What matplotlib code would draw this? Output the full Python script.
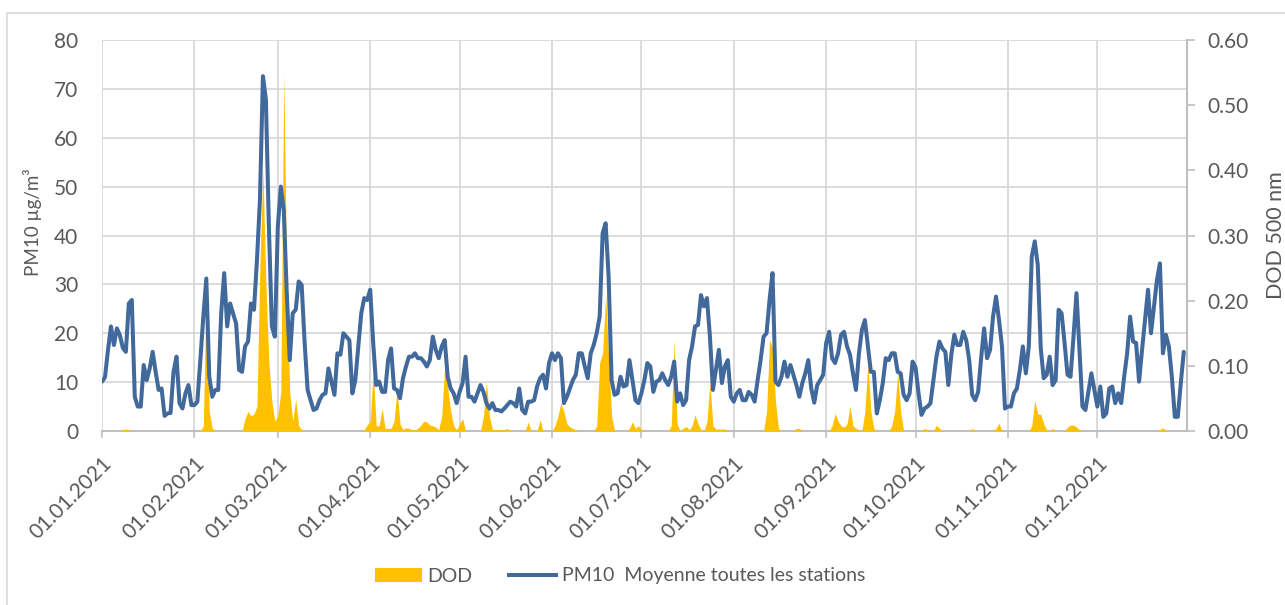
import numpy as np
import pandas as pd
import matplotlib
matplotlib.use("Agg")
import matplotlib.pyplot as plt
import matplotlib.dates as mdates
from matplotlib.patches import Patch, Rectangle
from matplotlib.lines import Line2D

plt.rcParams['font.family'] = ['Lato', 'DejaVu Sans']

# daily mean PM10 over all stations (µg/m3), one list per month
pm10_jan = [10.1, 11, 16.5, 21.4, 17.6, 21, 19.6, 17, 16.2, 26.1,
            26.8, 7, 5, 5, 13.5, 10.4, 12.8, 16.2, 12.1, 8.4,
            8.7, 3.1, 3.6, 3.7, 12.1, 15.2, 5.7, 4.6, 7.7, 9.4, 5.3]
pm10_feb = [5.3, 6, 14.5, 23.4, 31.2, 11.1, 7, 8.4, 8.4, 24.1,
            32.3, 21.4, 26.1, 24, 22, 12.5, 12.1, 17.3, 18.3, 26.1,
            24.8, 35, 47.3, 72.6, 67.8, 41.8, 21.4, 19.3]
pm10_mar = [41.8, 50, 45.2, 28.2, 14.5, 24.1, 24.8, 30.6, 29.9, 18,
            8.4, 6.3, 4.3, 4.6, 6.3, 7.4, 7.7, 12.8, 10.1, 7.4,
            15.9, 15.6, 20, 19.3, 18.6, 7.7, 10.4, 17.3, 24.1, 27.2, 26.8]
pm10_apr = [28.9, 18, 9.4, 10.1, 8, 8, 14.5, 16.9, 8.7, 8.4,
            6.7, 10.8, 13.2, 15.2, 15.2, 15.9, 14.9, 14.9, 14.2, 13.2,
            14.5, 19.3, 16.6, 14.9, 17.3, 18.6, 11.1, 8.7, 7.7, 5.7]
pm10_may = [8, 9.8, 15.2, 7, 7, 6, 7.7, 9.4, 8, 5.7,
            4.6, 5.7, 4.3, 4.3, 4, 4.6, 5.3, 6, 5.7, 5,
            8.7, 4.3, 3.6, 6, 6, 6.3, 9.1, 10.8, 11.5, 8.7, 13.9]
pm10_jun = [15.9, 14.5, 15.9, 14.9, 5.7, 7, 8.7, 10.4, 11.5, 15.9,
            15.9, 13.2, 10.8, 15.9, 17.6, 20, 23.4, 40.5, 42.5, 31.6,
            10.4, 7.4, 7.7, 11.1, 9.1, 9.4, 14.5, 10.4, 6.3, 5.7]
pm10_jul = [7.7, 10.4, 13.9, 13.2, 8, 10.1, 10.4, 11.8, 10.4, 9.4,
            11.1, 14.2, 6, 7.7, 5.3, 6.3, 14.5, 17.3, 21.4, 21.7,
            27.8, 25.5, 27.2, 19.3, 8.4, 12.5, 16.6, 9.8, 13.2, 14.5, 7]
pm10_aug = [6, 7.7, 8.4, 6.3, 6.3, 8, 7.4, 6, 10.4, 14.5,
            19.3, 20, 26.8, 32.3, 10.1, 9.4, 11.1, 14.2, 11.1, 13.5,
            11.5, 9.4, 7, 9.8, 11.8, 14.5, 8.7, 5.8, 9.4, 10.4, 11.5]
pm10_sep = [18, 20.3, 14.9, 13.9, 15.9, 19.7, 20.3, 17.3, 15.6, 11.8,
            8.4, 15.9, 20.7, 22.7, 17.3, 12.1, 12.1, 3.6, 6.3, 9.8,
            14.9, 14.5, 15.9, 15.9, 12.1, 11.8, 7.4, 6.3, 7.7, 14.2]
pm10_oct = [13, 7.7, 3.3, 4.6, 5, 5.7, 10.4, 15.2, 18.3, 16.9,
            16.2, 9.4, 15.6, 19.7, 17.6, 17.6, 20.3, 18.6, 14.5, 7.4,
            6.3, 8, 14.9, 21, 14.9, 16.6, 23.4, 27.5, 22.7, 17.3, 4.6]
pm10_nov = [5, 5, 7.7, 8.7, 12.5, 17.3, 11.8, 17.3, 35.7, 38.8,
            34, 17, 10.8, 11.5, 15.2, 9.4, 10.4, 24.8, 24.1, 18,
            11.5, 11.1, 19.3, 28.2, 16.6, 5, 4.3, 8, 11.8, 8.4]
pm10_dec = [5, 9.1, 2.9, 3.6, 8.7, 9.1, 5.7, 7.7, 5.7, 11.1,
            15.9, 23.4, 18.3, 18, 10.1, 16.6, 22.7, 28.9, 20, 25.5,
            30.9, 34.3, 15.9, 19.7, 17.3, 11.1, 2.9, 2.9, 9.8, 16.2]

# daily dust optical depth at 500 nm
dod_jan = [0, 0, 0, 0, 0, 0, 0, 0.002, 0.003, 0.002,
           0, 0, 0, 0, 0, 0, 0, 0, 0, 0,
           0, 0, 0, 0, 0, 0, 0, 0, 0, 0, 0]
dod_feb = [0, 0, 0, 0.008, 0.225, 0.03, 0.004, 0, 0, 0,
           0, 0, 0, 0, 0, 0, 0, 0.019, 0.03, 0.023,
           0.026, 0.038, 0.26, 0.40, 0.225, 0.105, 0.045, 0.015]
dod_mar = [0.023, 0.06, 0.548, 0.225, 0.06, 0.015, 0.049, 0.008, 0.002, 0,
           0, 0, 0, 0, 0, 0, 0, 0, 0, 0,
           0, 0, 0, 0, 0, 0, 0, 0, 0, 0.002, 0.009]
dod_apr = [0.015, 0.094, 0.008, 0.008, 0.034, 0.004, 0.004, 0.004, 0.015, 0.064,
           0.011, 0.002, 0.005, 0.004, 0.002, 0.002, 0.004, 0.009, 0.015, 0.014,
           0.009, 0.008, 0.006, 0.002, 0.023, 0.101, 0.068, 0.03, 0.008, 0.002]
dod_may = [0.011, 0.019, 0, 0, 0, 0, 0, 0, 0.023, 0.075,
           0.023, 0.002, 0.002, 0.002, 0.002, 0.002, 0.004, 0, 0, 0,
           0, 0, 0, 0.014, 0, 0, 0, 0.017, 0, 0, 0]
dod_jun = [0, 0.008, 0.023, 0.043, 0.03, 0.011, 0.006, 0.004, 0.002, 0,
           0, 0, 0, 0, 0, 0.008, 0.105, 0.12, 0.21, 0.113,
           0.023, 0, 0, 0, 0, 0, 0.004, 0.014, 0.004, 0.008]
dod_jul = [0.002, 0, 0, 0, 0, 0, 0, 0, 0, 0,
           0.008, 0.14, 0.011, 0, 0.004, 0.007, 0.002, 0.008, 0.025, 0.011,
           0.002, 0, 0.015, 0.075, 0.008, 0.003, 0.003, 0.003, 0.003, 0, 0]
dod_aug = [0, 0, 0, 0, 0, 0, 0, 0, 0, 0,
           0, 0.03, 0.14, 0.128, 0.045, 0.004, 0, 0, 0, 0,
           0, 0.004, 0.004, 0, 0, 0, 0, 0, 0, 0, 0]
dod_sep = [0, 0, 0.008, 0.027, 0.015, 0.008, 0.006, 0.011, 0.038, 0.008,
           0.004, 0.002, 0, 0.03, 0.105, 0.03, 0.004, 0, 0, 0,
           0, 0, 0.008, 0.03, 0.09, 0.03, 0, 0, 0, 0]
dod_oct = [0, 0, 0, 0.004, 0.002, 0, 0, 0.009, 0.004, 0,
           0, 0, 0, 0, 0, 0, 0, 0, 0, 0.004,
           0, 0, 0, 0, 0, 0, 0, 0.004, 0.012, 0, 0]
dod_nov = [0, 0, 0, 0, 0, 0, 0, 0, 0.008, 0.047,
           0.026, 0.026, 0.011, 0.002, 0, 0.004, 0, 0, 0, 0,
           0.006, 0.009, 0.009, 0.006, 0.002, 0, 0, 0, 0, 0]
dod_dec = [0, 0, 0, 0, 0, 0, 0, 0, 0, 0,
           0, 0, 0, 0, 0, 0, 0, 0, 0, 0,
           0, 0.002, 0.005, 0, 0, 0, 0, 0, 0, 0]

pm10 = np.array(pm10_jan + pm10_feb + pm10_mar + pm10_apr + pm10_may + pm10_jun
                + pm10_jul + pm10_aug + pm10_sep + pm10_oct + pm10_nov + pm10_dec)
dod = np.array(dod_jan + dod_feb + dod_mar + dod_apr + dod_may + dod_jun
               + dod_jul + dod_aug + dod_sep + dod_oct + dod_nov + dod_dec)
days = pd.date_range('2021-01-01', periods=len(pm10), freq='D')

grey_txt = '#595959'
grid_c = '#D9D9D9'
axis_c = '#BFBFBF'
fs = 15

fig = plt.figure(figsize=(12.85, 6.05), dpi=100)
W, H = 1285, 605
ax1 = fig.add_axes([102 / W, 1 - 431 / H, (1187 - 102) / W, (431 - 40) / H])
ax2 = ax1.twinx()

ax1.set_ylim(0, 80)
ax1.set_yticks(np.arange(0, 81, 10))
ax2.set_ylim(0, 0.6)
ax2.set_yticks(np.arange(0, 0.61, 0.1))
ax2.yaxis.set_major_formatter(plt.FormatStrFormatter('%.2f'))
ax1.set_xlim(pd.Timestamp('2021-01-01'), pd.Timestamp('2021-12-31 02:00'))

# dust area on the right axis, PM10 line drawn above it with left-axis scaling
ax2.fill_between(days, 0, dod, color='#FFC000', lw=0)
ax2.plot(days, pm10, transform=ax1.transData, color='#41699B', lw=2.9,
         solid_joinstyle='round', solid_capstyle='round')

ax1.xaxis.set_major_locator(mdates.MonthLocator())
ax1.xaxis.set_major_formatter(mdates.DateFormatter('%d.%m.%Y'))
ax1.grid(True, color=grid_c, lw=1.3)
ax1.set_axisbelow(True)

for ax in (ax1, ax2):
    for s in ax.spines.values():
        s.set_visible(False)
ax1.spines['bottom'].set_visible(True)
ax1.spines['bottom'].set_color(axis_c)
ax1.spines['bottom'].set_linewidth(1.5)
ax2.spines['right'].set_visible(True)
ax2.spines['right'].set_color(axis_c)
ax2.spines['right'].set_linewidth(1.5)

ax1.tick_params(axis='x', length=5, color=axis_c, width=1.2, labelsize=fs,
                labelcolor=grey_txt, pad=11)
ax1.tick_params(axis='y', length=0, labelsize=fs, labelcolor=grey_txt, pad=17)
ax2.tick_params(axis='y', length=6, color=axis_c, width=1.2, labelsize=fs,
                labelcolor=grey_txt, pad=9)
plt.setp(ax1.get_xticklabels(), rotation=45, ha='right', rotation_mode='anchor')

fig.text(32 / W, 1 - 222 / H, 'PM10 µg/m³', rotation=90, ha='center', va='center',
         fontsize=13.5, color=grey_txt)
fig.text(1276 / W, 1 - 235 / H, 'DOD 500 nm', rotation=90, ha='center', va='center',
         fontsize=15.5, color=grey_txt)

handles = [Patch(facecolor='#FFC000', edgecolor='none'),
           Line2D([], [], color='#41699B', lw=2.9)]
fig.legend(handles, ['DOD', 'PM10  Moyenne toutes les stations'], loc='center',
           bbox_to_anchor=(620 / W, 1 - 576 / H), ncol=2, frameon=False,
           fontsize=14, labelcolor=grey_txt, handlelength=2.4,
           handletextpad=0.3, columnspacing=1.9)

# light frame around the chart area
fig.patches.append(Rectangle((7 / W, -0.1), 1.2, 1.1 - 13 / H, transform=fig.transFigure,
                             fill=False, edgecolor=grid_c, lw=1.2))

fig.savefig('out.png', dpi=100)
